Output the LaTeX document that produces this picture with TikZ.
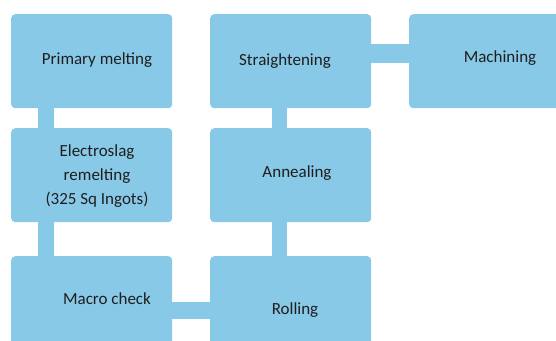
\documentclass[tikz,border=0pt]{standalone}
\usepackage{fontspec}
\setmainfont{Carlito}
\definecolor{boxblue}{RGB}{137,201,232}
\definecolor{txt}{RGB}{30,30,30}
\begin{document}
\begin{tikzpicture}[x=1pt,y=-1pt,
  stepbox/.style={rectangle,rounded corners=4pt,fill=boxblue,draw=none,
    minimum width=161pt,minimum height=94pt,anchor=north west,inner sep=0pt},
  label/.style={font=\fontsize{17}{24}\selectfont,text=txt,align=center,inner sep=0pt},
  vconn/.style={draw=boxblue,line width=16pt},
  hconn/.style={draw=boxblue,line width=18pt}]
\useasboundingbox[fill=white] (0,0) rectangle (556,340);
\begin{scope}
\clip (0,0) rectangle (556,340);
\node[stepbox] (pm) at (11,14) {};
\node[stepbox] (es) at (11,128) {};
\node[stepbox] (mc) at (11,256) {};
\node[stepbox] (st) at (210,14) {};
\node[stepbox] (an) at (210,128) {};
\node[stepbox] (ro) at (210,256) {};
\node[stepbox,minimum width=170pt] (ma) at (409,14) {};
\draw[vconn] ([xshift=35pt,yshift=2pt]pm.south west) -- ([xshift=35pt,yshift=-2pt]es.north west);
\draw[vconn] ([xshift=35pt,yshift=2pt]es.south west) -- ([xshift=35pt,yshift=-2pt]mc.north west);
\draw[vconn,line width=15pt] ([xshift=69.5pt,yshift=2pt]st.south west) -- ([xshift=69.5pt,yshift=-2pt]an.north west);
\draw[vconn,line width=15pt] ([xshift=69.5pt,yshift=2pt]an.south west) -- ([xshift=69.5pt,yshift=-2pt]ro.north west);
\draw[hconn,line width=17pt] ([xshift=-2pt,yshift=-54.5pt]mc.north east) -- ([xshift=2pt,yshift=-54.5pt]ro.north west);
\draw[hconn,line width=19pt] ([xshift=-2pt,yshift=-39pt]st.north east) -- ([xshift=2pt,yshift=-39pt]ma.north west);
\end{scope}
\node[label] (tpm) at (97,60) {Primary melting};
\node[label] (tes) at (97,176) {Electroslag\\remelting\\(325 Sq Ingots)};
\node[label] (tmc) at (107,299) {Macro check};
\node[label] (tst) at (285,61) {Straightening};
\node[label] (tan) at (297,173) {Annealing};
\node[label] (tro) at (295,310) {Rolling};
\node[label] (tma) at (500,58) {Machining};
\end{tikzpicture}
\end{document}
